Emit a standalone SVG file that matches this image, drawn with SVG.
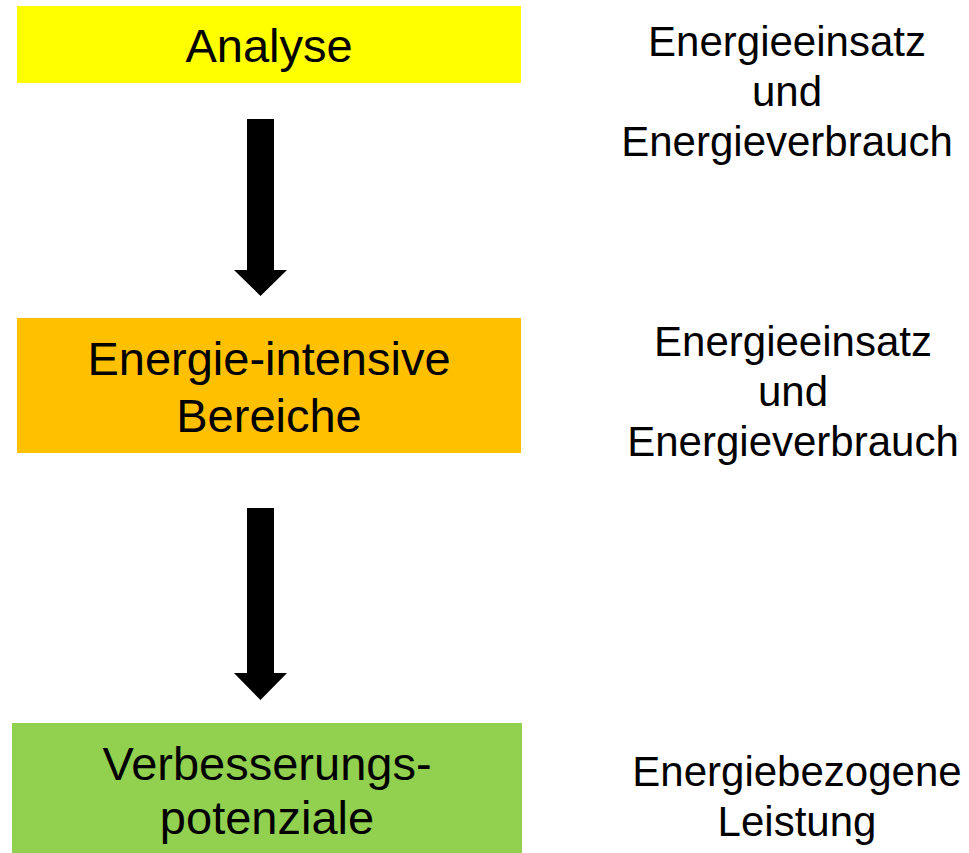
<svg xmlns="http://www.w3.org/2000/svg" width="969" height="853" viewBox="0 0 969 853">
<style>
text{font-family:"Liberation Sans",Arial,sans-serif;fill:#000;text-anchor:middle}
.b{font-size:47px}
.r{font-size:42px}
.arrow{fill:#000}
</style>
<rect width="969" height="853" fill="#fff"/>
<g id="analyse">
<rect x="17" y="6" width="504" height="77" fill="#FFFF00"/>
<text class="b" x="269" y="62">Analyse</text>
</g>
<g id="bereiche">
<rect x="17" y="318" width="504" height="135" fill="#FFC000"/>
<text class="b" x="269" y="375">Energie-intensive</text>
<text class="b" x="269" y="432">Bereiche</text>
</g>
<g id="potenziale">
<rect x="12" y="723" width="510" height="130" fill="#92D050"/>
<text class="b" x="267" y="780">Verbesserungs-</text>
<text class="b" x="267" y="834">potenziale</text>
</g>
<g id="label1">
<text class="r" x="787" y="56">Energieeinsatz</text>
<text class="r" x="787" y="106">und</text>
<text class="r" x="787" y="156">Energieverbrauch</text>
</g>
<g id="label2">
<text class="r" x="793" y="356">Energieeinsatz</text>
<text class="r" x="793" y="406">und</text>
<text class="r" x="793" y="456">Energieverbrauch</text>
</g>
<g id="label3">
<text class="r" x="797" y="786">Energiebezogene</text>
<text class="r" x="797" y="836">Leistung</text>
</g>
<g id="connectors">
<polygon class="arrow" points="247,119 274,119 274,270 287,270 260.5,296 234,270 247,270"/>
<polygon class="arrow" points="247,508 274,508 274,673 287,673 260.5,700 234,673 247,673"/>
</g>
</svg>
